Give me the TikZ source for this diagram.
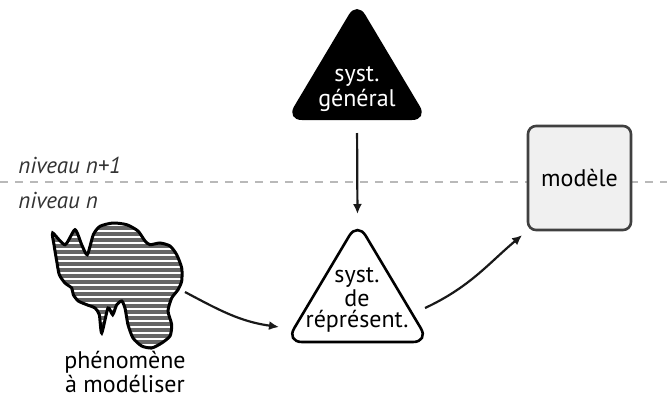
\documentclass[tikz,border=0pt]{standalone}
\usepackage{fontspec}
\setmainfont{PT Sans}
\usetikzlibrary{arrows.meta,patterns.meta}

\tikzset{
  lbl/.style={font=\fontsize{12}{10.8}\selectfont, align=center, inner sep=0pt},
  lvl/.style={font=\fontsize{11.5}{12}\selectfont\itshape, text=black!80, anchor=west, inner sep=0pt},
  arr/.style={-{Latex[length=5pt,width=4.5pt]}, line width=1.1pt, black!90},
  tri/.style={rounded corners=8pt, line width=1.3pt},
}

\begin{document}
\begin{tikzpicture}[x=0.5pt,y=-0.5pt]
\useasboundingbox (0,0) rectangle (667,396);
% separation des niveaux
\draw[gray!55, line width=1.2pt, dash pattern=on 4pt off 3.5pt] (0,182) -- (667,182);
\node[lvl] (up) at (18,165) {niveau n+1};
\node[lvl] (down) at (18,200) {niveau n};
% syst. general
\coordinate (gen-t) at (357,1);
\coordinate (gen-l) at (286,120);
\coordinate (gen-r) at (428,120);
\coordinate (gen-b) at (357,120);
\fill[tri] (gen-t) -- (gen-l) -- (gen-r) -- cycle;
\node[lbl, text=white] (gen) at (357,89) {syst.\\général};
% syst. de represent.
\coordinate (rep-t) at (357.5,222);
\coordinate (rep-l) at (286,342);
\coordinate (rep-r) at (429,342);
\coordinate (rep-w) at (279,327);
\coordinate (rep-e) at (425,308);
\draw[tri, fill=white] (rep-t) -- (rep-l) -- (rep-r) -- cycle;
\node[lbl] (rep) at (357,300) {syst.\\de\\réprésent.};
% modele
\node[lbl, draw=black!75, fill=gray!12, line width=1.3pt, rounded corners=4pt,
  minimum width=51.5pt, minimum height=52pt] (modele) at (579.5,178) {modèle};
% phenomene
\draw[line width=1.5pt, pattern={Lines[angle=0,distance=3pt,line width=1.6pt]}, pattern color=black!60]
  plot[smooth cycle, tension=0.4] coordinates {
  (52.7,233) (65,244.7) (75,229.7) (81.7,244.7) (87.3,254.7) (93.3,234.7)
  (100,226.3) (113,223) (126.7,224.7) (138,231) (145,241) (150,244.7)
  (160,243) (170,246) (176.7,254.7) (181.7,268) (181.7,281) (178,289.7)
  (171.7,298) (168,311) (171.7,324.7) (170,336) (161.7,343) (151.7,348)
  (141.7,346) (133,338) (128,324.7) (125,308) (121.7,301) (116.7,304.7)
  (112.7,314.7) (108,308) (101.7,333) (99.3,314.7) (95,308) (86.7,304.7)
  (78.3,301) (73.3,294.7) (71.7,288) (65,283) (59.3,274.7) (56.7,261) (54,244.7)};
\coordinate (phen-e) at (185,292);
\node[lbl, font=\fontsize{12}{11}\selectfont, anchor=south] (phen) at (125,393) {phénomène\\à modéliser};
% fleches
\draw[arr, shorten <=6.5pt, shorten >=4pt] (gen-b) -- (rep-t);
\draw[arr] (phen-e) to[out=-28, in=172] (rep-w);
\draw[arr, shorten >=3pt] (rep-e) to[out=25, in=-140] (modele.south west);
\end{tikzpicture}
\end{document}
